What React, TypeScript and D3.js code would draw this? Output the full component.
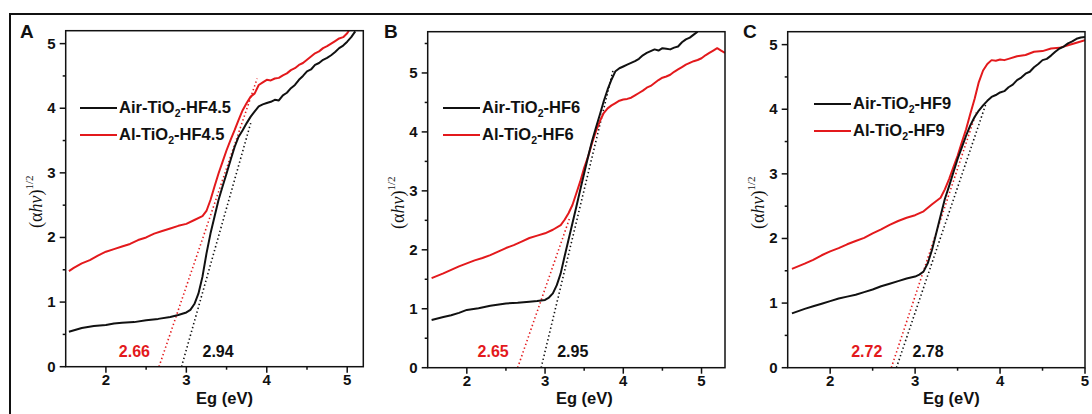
import React from 'react';
import * as d3 from 'd3';

type Pt = [number, number];

// Panel A (HF4.5)
const airA: Pt[] = [
  [1.54, 0.54], [1.7, 0.6], [1.85, 0.63], [2.0, 0.645], [2.1, 0.67], [2.2, 0.68], [2.35, 0.69], [2.5, 0.72],
  [2.65, 0.74], [2.8, 0.77], [2.9, 0.8], [3.0, 0.84], [3.05, 0.88], [3.1, 0.97], [3.15, 1.13], [3.2, 1.39],
  [3.25, 1.75], [3.3, 2.06], [3.35, 2.32], [3.4, 2.58], [3.45, 2.79], [3.5, 2.99], [3.55, 3.2], [3.6, 3.4],
  [3.65, 3.56], [3.7, 3.66], [3.75, 3.77], [3.8, 3.87], [3.85, 3.95], [3.9, 4.03], [3.95, 4.06], [4.0, 4.08],
  [4.05, 4.1], [4.1, 4.13], [4.15, 4.12], [4.2, 4.2], [4.25, 4.24], [4.3, 4.31], [4.35, 4.36], [4.4, 4.44],
  [4.45, 4.5], [4.5, 4.57], [4.55, 4.6], [4.6, 4.67], [4.65, 4.7], [4.7, 4.75], [4.75, 4.78], [4.8, 4.82],
  [4.85, 4.87], [4.9, 4.93], [4.95, 4.97], [5.0, 5.03], [5.05, 5.1], [5.1, 5.19],
];
const alA: Pt[] = [
  [1.54, 1.48], [1.6, 1.53], [1.7, 1.6], [1.8, 1.65], [1.9, 1.72], [2.0, 1.78], [2.1, 1.82], [2.2, 1.86],
  [2.3, 1.9], [2.4, 1.96], [2.5, 2.0], [2.6, 2.06], [2.7, 2.1], [2.8, 2.14], [2.9, 2.18], [3.0, 2.21],
  [3.1, 2.27], [3.2, 2.33], [3.25, 2.41], [3.3, 2.58], [3.35, 2.79], [3.4, 2.99], [3.45, 3.17], [3.5, 3.35],
  [3.55, 3.51], [3.6, 3.66], [3.65, 3.82], [3.7, 3.97], [3.75, 4.08], [3.8, 4.18], [3.85, 4.23], [3.9, 4.36],
  [3.95, 4.4], [4.0, 4.44], [4.05, 4.43], [4.1, 4.46], [4.15, 4.47], [4.2, 4.51], [4.25, 4.54], [4.3, 4.59],
  [4.35, 4.62], [4.4, 4.67], [4.45, 4.7], [4.5, 4.75], [4.55, 4.8], [4.6, 4.85], [4.65, 4.88], [4.7, 4.93],
  [4.75, 4.96], [4.8, 5.0], [4.85, 5.04], [4.9, 5.08], [4.95, 5.1], [5.0, 5.16], [5.02, 5.2],
];

// Panel B (HF6)
const airB: Pt[] = [
  [1.55, 0.81], [1.7, 0.86], [1.8, 0.89], [1.9, 0.93], [2.0, 0.98], [2.15, 1.01], [2.3, 1.05], [2.5, 1.09],
  [2.65, 1.1], [2.8, 1.12], [2.9, 1.13], [3.0, 1.15], [3.05, 1.19], [3.1, 1.26], [3.15, 1.4], [3.2, 1.6],
  [3.25, 1.89], [3.3, 2.17], [3.35, 2.45], [3.4, 2.73], [3.45, 3.02], [3.5, 3.3], [3.55, 3.58], [3.6, 3.84],
  [3.65, 4.07], [3.7, 4.29], [3.75, 4.52], [3.8, 4.72], [3.85, 4.89], [3.9, 5.03], [3.95, 5.08], [4.0, 5.11],
  [4.05, 5.14], [4.1, 5.17], [4.15, 5.2], [4.2, 5.24], [4.25, 5.3], [4.3, 5.34], [4.35, 5.37], [4.4, 5.4],
  [4.45, 5.38], [4.5, 5.42], [4.55, 5.41], [4.6, 5.4], [4.65, 5.43], [4.7, 5.45], [4.75, 5.52], [4.8, 5.57],
  [4.85, 5.6], [4.9, 5.65], [4.95, 5.7],
];
const alB: Pt[] = [
  [1.55, 1.52], [1.7, 1.6], [1.8, 1.66], [1.9, 1.72], [2.0, 1.77], [2.1, 1.82], [2.2, 1.86], [2.3, 1.91],
  [2.4, 1.97], [2.5, 2.03], [2.6, 2.08], [2.7, 2.14], [2.8, 2.2], [2.9, 2.24], [3.0, 2.28], [3.1, 2.34],
  [3.2, 2.42], [3.25, 2.51], [3.3, 2.62], [3.35, 2.76], [3.4, 2.96], [3.45, 3.16], [3.5, 3.39], [3.55, 3.58],
  [3.6, 3.81], [3.65, 4.01], [3.7, 4.18], [3.75, 4.32], [3.8, 4.4], [3.85, 4.45], [3.9, 4.49], [3.95, 4.53],
  [4.0, 4.55], [4.05, 4.56], [4.1, 4.58], [4.15, 4.62], [4.2, 4.66], [4.25, 4.7], [4.3, 4.75], [4.35, 4.78],
  [4.4, 4.83], [4.45, 4.88], [4.5, 4.92], [4.55, 4.94], [4.6, 4.97], [4.65, 5.02], [4.7, 5.06], [4.75, 5.1],
  [4.8, 5.14], [4.85, 5.17], [4.9, 5.2], [4.95, 5.22], [5.0, 5.25], [5.05, 5.3], [5.1, 5.34], [5.15, 5.38],
  [5.2, 5.42], [5.25, 5.38], [5.3, 5.34],
];

// Panel C (HF9)
const airC: Pt[] = [
  [1.55, 0.84], [1.7, 0.91], [1.8, 0.95], [1.9, 0.99], [2.0, 1.03], [2.1, 1.07], [2.2, 1.1], [2.3, 1.13],
  [2.4, 1.17], [2.5, 1.21], [2.6, 1.26], [2.7, 1.3], [2.8, 1.34], [2.9, 1.38], [3.0, 1.41], [3.05, 1.44],
  [3.1, 1.49], [3.15, 1.62], [3.2, 1.83], [3.25, 2.09], [3.3, 2.35], [3.35, 2.61], [3.4, 2.81], [3.45, 3.02],
  [3.5, 3.23], [3.55, 3.41], [3.6, 3.59], [3.65, 3.75], [3.7, 3.88], [3.75, 3.98], [3.8, 4.06], [3.85, 4.13],
  [3.9, 4.19], [3.95, 4.22], [4.0, 4.26], [4.05, 4.28], [4.1, 4.34], [4.15, 4.38], [4.2, 4.45], [4.25, 4.49],
  [4.3, 4.55], [4.35, 4.58], [4.4, 4.65], [4.45, 4.7], [4.5, 4.76], [4.55, 4.78], [4.6, 4.83], [4.65, 4.89],
  [4.7, 4.94], [4.75, 4.97], [4.8, 5.02], [4.85, 5.05], [4.9, 5.09], [4.95, 5.11], [5.0, 5.12],
];
const alC: Pt[] = [
  [1.55, 1.53], [1.7, 1.61], [1.8, 1.67], [1.9, 1.74], [2.0, 1.8], [2.1, 1.85], [2.2, 1.91], [2.3, 1.96],
  [2.4, 2.01], [2.5, 2.08], [2.6, 2.14], [2.7, 2.21], [2.8, 2.27], [2.9, 2.32], [3.0, 2.36], [3.1, 2.42],
  [3.2, 2.53], [3.3, 2.63], [3.35, 2.76], [3.4, 2.92], [3.45, 3.1], [3.5, 3.28], [3.55, 3.49], [3.6, 3.69],
  [3.65, 3.93], [3.7, 4.16], [3.75, 4.42], [3.8, 4.6], [3.85, 4.7], [3.9, 4.76], [3.95, 4.75], [4.0, 4.77],
  [4.05, 4.76], [4.1, 4.78], [4.2, 4.82], [4.3, 4.84], [4.4, 4.89], [4.5, 4.9], [4.6, 4.94], [4.7, 4.95],
  [4.8, 4.99], [4.9, 5.03], [5.0, 5.07],
];

// tangent (dotted) lines: [intercept, top point]
const tanA = { red: [[2.66, 0], [3.88, 4.46]] as Pt[], black: [[2.94, 0], [3.8, 3.77]] as Pt[] };
const tanB = { red: [[2.65, 0], [3.32, 2.56]] as Pt[], black: [[2.95, 0], [3.87, 5.05]] as Pt[] };
const tanC = { red: [[2.72, 0], [3.72, 3.95]] as Pt[], black: [[2.78, 0], [3.83, 4.07]] as Pt[] };

const gapLabels = [
  { red: '2.66', black: '2.94' },
  { red: '2.65', black: '2.95' },
  { red: '2.72', black: '2.78' },
];
const legendSuffix = ['HF4.5', 'HF6', 'HF9'];
const panelLetters = ['A', 'B', 'C'];
const xTicks = [2, 3, 4, 5];
const xMinor = [1.5, 2.5, 3.5, 4.5];
const yTicksList = [[0, 1, 2, 3, 4, 5], [0, 1, 2, 3, 4, 5], [0, 1, 2, 3, 4, 5]];
const yMinorList = [[0.5, 1.5, 2.5, 3.5, 4.5], [0.5, 1.5, 2.5, 3.5, 4.5, 5.5], [0.5, 1.5, 2.5, 3.5, 4.5]];
const xDomains = [[1.5, 5.2], [1.5, 5.3], [1.5, 5.0]];
const yDomains = [[0, 5.2], [0, 5.7], [0, 5.2]];

const RED = '#e3191c';
const FONT = '"Liberation Sans", Arial, sans-serif';

const layouts = [
  { left: 65.7, top: 30.7, right: 363.3, bottom: 366.7, letterX: 20, legX: 80, legY: 108, titleDx: 10 },
  { left: 427.7, top: 31.7, right: 725, bottom: 367.7, letterX: 384, legX: 443, legY: 108, titleDx: 8 },
  { left: 787.7, top: 31.7, right: 1085, bottom: 367.7, letterX: 743, legX: 814, legY: 104, titleDx: 15 },
];

const series = [
  { air: airA, al: alA, tan: tanA },
  { air: airB, al: alB, tan: tanB },
  { air: airC, al: alC, tan: tanC },
];

function Panel({ i }: { i: number }) {
  const L = layouts[i];
  const s = series[i];
  const x = d3.scaleLinear().domain(xDomains[i]).range([L.left, L.right]);
  const y = d3.scaleLinear().domain(yDomains[i]).range([L.bottom, L.top]);
  const line = d3.line<Pt>().x((d) => x(d[0])).y((d) => y(d[1]));
  const clipId = `clip-${i}`;
  const cx = (L.left + L.right) / 2;
  const cy = (L.top + L.bottom) / 2;

  const legendLabel = (prefix: string, yy: number) => (
    <text x={L.legX + 39} y={yy + 5} fontFamily={FONT} fontWeight="bold" fontSize={16.5} fill="#111">
      {prefix}-TiO<tspan fontSize={10.5} dy={4}>2</tspan>
      <tspan dy={-4}>-{legendSuffix[i]}</tspan>
    </text>
  );

  return (
    <g>
      <defs>
        <clipPath id={clipId}>
          <rect x={L.left} y={L.top} width={L.right - L.left} height={L.bottom - L.top} />
        </clipPath>
      </defs>
      <text x={L.letterX} y={38} fontFamily={FONT} fontWeight="bold" fontSize={19} fill="#111">
        {panelLetters[i]}
      </text>

      <g clipPath={`url(#${clipId})`}>
        <path d={line(s.tan.red) || ''} fill="none" stroke={RED} strokeWidth={1.6} strokeDasharray="1.4 2.6" />
        <path d={line(s.tan.black) || ''} fill="none" stroke="#111" strokeWidth={1.6} strokeDasharray="1.4 2.6" />
        <path d={line(s.al) || ''} fill="none" stroke={RED} strokeWidth={2} strokeLinejoin="round" />
        <path d={line(s.air) || ''} fill="none" stroke="#111" strokeWidth={2} strokeLinejoin="round" />
      </g>

      <rect x={L.left} y={L.top} width={L.right - L.left} height={L.bottom - L.top} fill="none" stroke="#111" strokeWidth={1.5} />

      {xTicks.map((t) => (
        <g key={`xt${t}`}>
          <line x1={x(t)} x2={x(t)} y1={L.bottom} y2={L.bottom + 6} stroke="#111" strokeWidth={1.5} />
          <text x={x(t)} y={L.bottom + 18} textAnchor="middle" fontFamily={FONT} fontWeight="bold" fontSize={15} fill="#111">{t}</text>
        </g>
      ))}
      {xMinor.filter((t) => t > xDomains[i][0]).map((t) => (
        <line key={`xm${t}`} x1={x(t)} x2={x(t)} y1={L.bottom} y2={L.bottom + 3} stroke="#111" strokeWidth={1.5} />
      ))}
      {yTicksList[i].map((t) => (
        <g key={`yt${t}`}>
          <line x1={L.left - 6} x2={L.left} y1={y(t)} y2={y(t)} stroke="#111" strokeWidth={1.5} />
          <text x={L.left - 10} y={y(t) + 5} textAnchor="end" fontFamily={FONT} fontWeight="bold" fontSize={15} fill="#111">{t}</text>
        </g>
      ))}
      {yMinorList[i].map((t) => (
        <line key={`ym${t}`} x1={L.left - 3} x2={L.left} y1={y(t)} y2={y(t)} stroke="#111" strokeWidth={1.5} />
      ))}

      <text x={cx + L.titleDx} y={404} textAnchor="middle" fontFamily={FONT} fontWeight="bold" fontSize={16.5} fill="#111">
        Eg (eV)
      </text>
      <text
        transform={`translate(${L.left - 24},${cy + 3}) rotate(-90)`}
        textAnchor="middle"
        fontFamily='"Liberation Serif", "Times New Roman", serif'
        fontSize={18}
        fill="#111"
      >
        (α<tspan fontStyle="italic">hν</tspan>)<tspan fontSize={11} dy={-9}>1/2</tspan>
      </text>

      <line x1={L.legX} x2={L.legX + 37} y1={L.legY} y2={L.legY} stroke="#111" strokeWidth={2} />
      {legendLabel('Air', L.legY)}
      <line x1={L.legX} x2={L.legX + 37} y1={L.legY + 27} y2={L.legY + 27} stroke={RED} strokeWidth={2} />
      {legendLabel('Al', L.legY + 27)}

      <text x={x(s.tan.red[0][0]) - 9} y={357} textAnchor="end" fontFamily={FONT} fontWeight="bold" fontSize={16} fill={RED}>
        {gapLabels[i].red}
      </text>
      <text x={x(s.tan.black[0][0]) + (i === 0 ? 21 : 16)} y={357} fontFamily={FONT} fontWeight="bold" fontSize={16} fill="#111">
        {gapLabels[i].black}
      </text>
    </g>
  );
}

export default function App() {
  return (
    <svg width={1092} height={414} style={{ position: 'absolute', left: 0, top: 0, background: '#fff' }}>
      <rect x={0} y={0} width={1092} height={414} fill="#fff" />
      <rect x={10} y={14} width={1100} height={420} fill="none" stroke="#111" strokeWidth={2} />
      {[0, 1, 2].map((i) => (
        <Panel key={i} i={i} />
      ))}
    </svg>
  );
}
